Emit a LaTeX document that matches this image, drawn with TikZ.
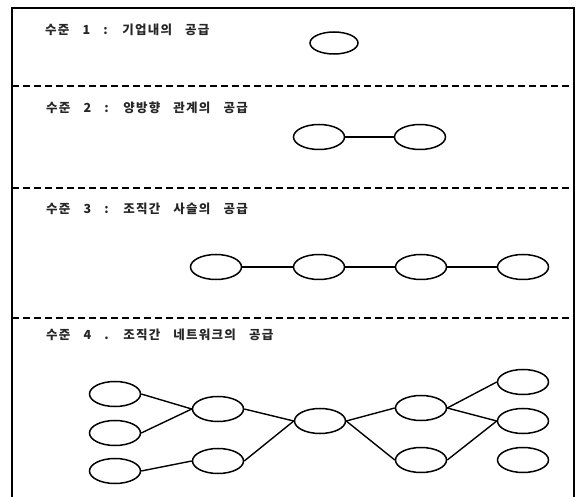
\documentclass[tikz,border=0pt]{standalone}
\usepackage{fontspec}
\usetikzlibrary{shapes.geometric}
\newfontfamily\kr[LetterSpace=10,WordSpace=3.2]{Noto Sans CJK KR}
\begin{document}
\begin{tikzpicture}[x=1pt,y=-1pt,
  nd/.style={draw=black,line width=1.5pt,ellipse,minimum width=51pt,minimum height=25pt,inner sep=0pt},
  lnk/.style={draw=black,line width=1.4pt},
  sep/.style={draw=black,line width=1.4pt,dash pattern=on 7pt off 4pt},
  frm/.style={draw=black,line width=1.8pt},
  lbl/.style={anchor=west,inner sep=0pt,text=black!85,font=\kr\bfseries\fontsize{12.5pt}{14pt}\selectfont}]
\useasboundingbox (0,0) rectangle (579,497);
% frame
\coordinate (tl) at (12,8);
\coordinate (tr) at (574,8);
\coordinate (bl) at (12,497);
\coordinate (br) at (574,497);
\draw[frm] (bl) -- (tl) -- (tr) -- (br);
% separators
\coordinate (s1l) at (12,86);  \coordinate (s1r) at (574,86);
\coordinate (s2l) at (12,188); \coordinate (s2r) at (574,188);
\coordinate (s3l) at (12,318); \coordinate (s3r) at (574,318);
\draw[sep] (s1l) -- (s1r);
\draw[sep] (s2l) -- (s2r);
\draw[sep] (s3l) -- (s3r);
% labels
\node[lbl] (t1) at (45,30) {수준 1 : 기업내의 공급};
\node[lbl] (t2) at (46,108) {수준 2 : 양방향 관계의 공급};
\node[lbl] (t3) at (46,209) {수준 3 : 조직간 사슬의 공급};
\node[lbl] (t4) at (46,335) {수준 4 . 조직간 네트워크의 공급};
% level 1
\node[nd,minimum width=48pt,minimum height=22pt] (a1) at (334,43) {};
% level 2
\node[nd] (b1) at (319,137) {};
\node[nd] (b2) at (420,137) {};
\draw[lnk] (b1) -- (b2);
% level 3
\node[nd] (c1) at (216,267) {};
\node[nd] (c2) at (319,267) {};
\node[nd] (c3) at (421,267) {};
\node[nd] (c4) at (523,267) {};
\draw[lnk] (c1) -- (c2);
\draw[lnk] (c2) -- (c3);
\draw[lnk] (c3) -- (c4);
% level 4
\node[nd] (d1) at (115,394) {};
\node[nd] (d2) at (115,433) {};
\node[nd] (d3) at (115,471) {};
\node[nd] (d4) at (218,409) {};
\node[nd] (d5) at (218,461) {};
\node[nd] (d6) at (320,421) {};
\node[nd] (d7) at (421,408) {};
\node[nd] (d8) at (421,460) {};
\node[nd] (d9) at (523,382) {};
\node[nd] (d10) at (523,421) {};
\node[nd] (d11) at (523,460) {};
\draw[lnk] (d1.east) -- (d4.west);
\draw[lnk] (d2.east) -- (d4.west);
\draw[lnk] (d3.east) -- (d5.west);
\draw[lnk] (d4.east) -- (d6.west);
\draw[lnk] (d5.east) -- (d6.west);
\draw[lnk] (d6.east) -- (d7.west);
\draw[lnk] (d6.east) -- (d8.west);
\draw[lnk] (d7.east) -- (d9.west);
\draw[lnk] (d7.east) -- (d10.west);
\draw[lnk] (d8.east) -- (d10.west);
\end{tikzpicture}
\end{document}
